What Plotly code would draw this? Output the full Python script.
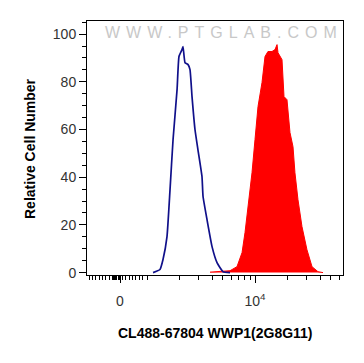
import plotly.graph_objects as go

# Blue (control) histogram: fluorescence intensity vs relative cell number
blue_x = [1137, 1318, 1406, 1531, 1633, 1742, 1897, 1977, 2109, 2154, 2248, 2399,
          2500, 2610, 2782, 2965, 3228, 3302, 3594, 4000, 4448, 5053, 5871]
blue_y = [0, 1.3, 5.5, 15.1, 34.8, 55.8, 76.7, 90.6, 93.5, 94.8, 88.0, 87.2,
          85.1, 73.8, 59.9, 51.4, 40.3, 31.9, 22.2, 10.9, 4.2, 0.4, 0]

# Red (stained) histogram
red_x = [3831, 5871, 6813, 7586, 8081, 8614, 9381, 10000, 10660, 11610, 12375, 13183,
         14367, 15316, 15996, 16331, 17783, 18563, 19781, 21086, 22486, 23442, 25003,
         27228, 30283, 33724, 38283, 42640]
red_y = [0.2, 0.8, 2.5, 8.4, 16.8, 27.7, 41.9, 55.8, 69.6, 79.7, 90.6, 92.7,
         92.7, 93.5, 95.6, 92.2, 89.3, 73.8, 72.5, 58.7, 52.8, 41.9, 30.6,
         19.3, 9.6, 2.5, 0.4, 0]

y_ticks = [0, 20, 40, 60, 80, 100]
x_major_vals = [562, 10000]
x_major_text = ["0", "10<sup>4</sup>"]

# minor ticks: log decades plus the dense linear region near zero
x_minor = [k * 1000 for k in range(1, 10)] + [k * 10000 for k in range(2, 7)]
def px_to_val(p):
    return 10 ** (4 + (p - 255) / 108.0)
lin_px = [89 + 3.35 * i for i in range(17)] + [113, 114, 115, 116, 118]
x_minor += [px_to_val(p) for p in lin_px]

fig = go.Figure()
fig.add_trace(go.Scatter(x=red_x, y=red_y, mode="lines", fill="tozeroy",
                         fillcolor="#ff0000", line=dict(color="#ff0000", width=1),
                         showlegend=False, hoverinfo="skip"))
fig.add_trace(go.Scatter(x=blue_x, y=blue_y, mode="lines",
                         line=dict(color="#10108a", width=1.7, shape="spline", smoothing=0.4),
                         showlegend=False, hoverinfo="skip"))

font_family = "Liberation Sans, Arial, sans-serif"

fig.update_layout(
    width=364, height=363,
    margin=dict(l=87, r=21, t=21, b=88),
    paper_bgcolor="white", plot_bgcolor="white",
    font=dict(family=font_family, color="#333333", size=14),
    xaxis=dict(type="log", range=[2.444, 4.815],
               showline=True, mirror=True, linecolor="black", linewidth=1,
               ticks="outside", ticklen=7, tickwidth=1, tickcolor="black",
               tickmode="array", tickvals=x_major_vals, ticktext=x_major_text,
               tickfont=dict(size=14, color="#333333", family=font_family),
               ticklabelstandoff=6,
               showgrid=False, zeroline=False,
               minor=dict(tickmode="array", tickvals=x_minor, ticks="outside",
                          ticklen=4, tickwidth=1, tickcolor="black", showgrid=False)),
    yaxis=dict(range=[-1, 105.5],
               showline=True, mirror=True, linecolor="black", linewidth=1,
               ticks="outside", ticklen=7, tickwidth=1, tickcolor="black",
               tickmode="array", tickvals=y_ticks,
               tickfont=dict(size=14, color="#333333", family=font_family),
               showgrid=False, zeroline=False,
               minor=dict(dtick=5, ticks="outside", ticklen=4, tickwidth=1,
                          tickcolor="black", showgrid=False)),
    annotations=[
        dict(text="<b>CL488-67804 WWP1(2G8G11)</b>", xref="paper", yref="paper",
             x=0.5, y=-0.228, xanchor="center", yanchor="middle", showarrow=False,
             font=dict(size=14, color="black", family=font_family)),
        dict(text="<b>Relative Cell Number</b>", xref="paper", yref="paper",
             x=-0.2227, y=0.5, xanchor="center", yanchor="middle", showarrow=False,
             textangle=-90, font=dict(size=14, color="black", family=font_family)),
        dict(text='<span style="letter-spacing:6px">WWW.PTGLAB.COM</span>',
             xref="paper", yref="paper", x=0.535, y=0.953,
             xanchor="center", yanchor="middle", showarrow=False,
             font=dict(size=16, color="#c8c8c8", family=font_family)),
    ],
)

fig.write_html("out.html", post_script="document.body.style.margin='0';",
               config={"displayModeBar": False, "staticPlot": True})
